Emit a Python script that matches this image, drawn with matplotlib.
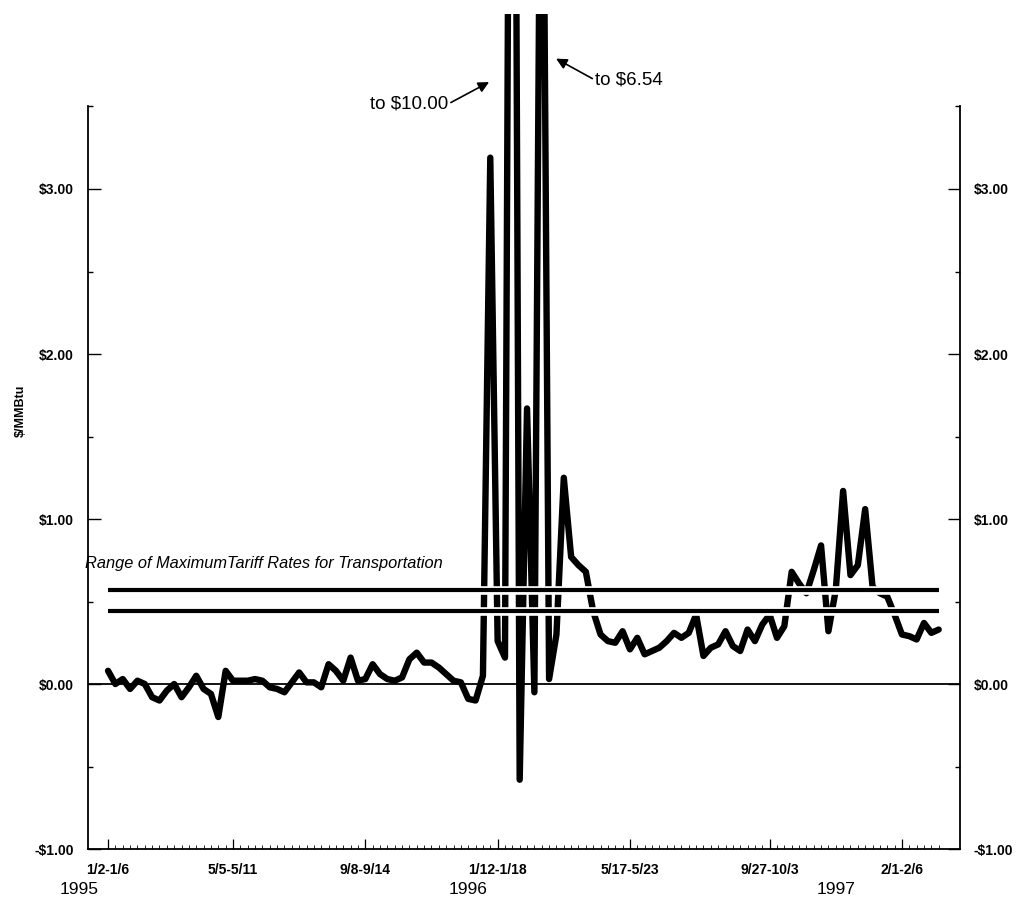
import numpy as np
import matplotlib
matplotlib.use('Agg')
import matplotlib.pyplot as plt
import matplotlib.patheffects as pe
import matplotlib.transforms as mtransforms
from matplotlib.patches import Rectangle

plt.rcParams['font.family'] = 'Liberation Sans'

# weekly price spread, $/MMBtu, first week of 1995 to spring 1997
spread = [0.08, 0.00, 0.03, -0.03, 0.02, 0.00, -0.08, -0.10, -0.04, 0.00,
          -0.08, -0.02, 0.05, -0.03, -0.06, -0.20, 0.08, 0.02, 0.02, 0.02,
          0.03, 0.02, -0.02, -0.03, -0.05, 0.01, 0.07, 0.01, 0.01, -0.02,
          0.12, 0.08, 0.02, 0.16, 0.02, 0.03, 0.12, 0.06, 0.03, 0.02,
          0.04, 0.15, 0.19, 0.13, 0.13, 0.10, 0.06, 0.02, 0.01, -0.09,
          -0.10, 0.05, 3.19, 0.26, 0.16, 10.00, -0.58, 1.67, -0.05, 6.54,
          0.03, 0.30, 1.25, 0.77, 0.72, 0.68, 0.44, 0.30, 0.26, 0.25,
          0.32, 0.21, 0.28, 0.18, 0.20, 0.22, 0.26, 0.31, 0.28, 0.31,
          0.42, 0.17, 0.22, 0.24, 0.32, 0.23, 0.20, 0.33, 0.26, 0.36,
          0.42, 0.28, 0.35, 0.68, 0.61, 0.55, 0.69, 0.84, 0.32, 0.57,
          1.17, 0.66, 0.72, 1.06, 0.59, 0.55, 0.53, 0.42, 0.30, 0.29,
          0.27, 0.37, 0.31, 0.33]

tariff_rates = [0.44, 0.57]   # range of maximum tariff rates

week_labels = ['1/2-1/6', '5/5-5/11', '9/8-9/14', '1/12-1/18',
               '5/17-5/23', '9/27-10/3', '2/1-2/6']
label_weeks = [0, 17, 35, 53, 71, 90, 108]
years = ['1995', '1996', '1997']
year_pos = [-4, 49, 99]

yticks = [-1, 0, 1, 2, 3]


def money(v):
    if v < 0:
        return r'-\$%.2f' % abs(v)
    return r'\$%.2f' % v


x = np.arange(len(spread))

fig = plt.figure(figsize=(10.19, 9.01), dpi=100)
ax = fig.add_axes([0.0864, 0.0577, 0.8557, 0.8241])

ax.axhline(0, color='black', lw=1.3, zorder=1)

line, = ax.plot(x, spread, color='black', lw=4.6, solid_joinstyle='round',
                solid_capstyle='round', zorder=2)
# the spikes run past the top of the frame and are cut near the page edge
line.set_clip_path(Rectangle((-3, -1), 121, 5.06, transform=ax.transData))

# tariff band lines sit on top of the series with a thin white edge
for r in tariff_rates:
    ax.plot([x[0], x[-1]], [r, r], color='black', lw=3.0, zorder=3,
            solid_capstyle='butt',
            path_effects=[pe.Stroke(linewidth=6.2, foreground='white'), pe.Normal()])

ax.text(-3.1, 0.733, 'Range of MaximumTariff Rates for Transportation',
        fontsize=11.8, fontstyle='italic', ha='left', va='center')

ax.annotate('to $10.00', xy=(51.84, 3.648), xytext=(46.26, 3.515),
            ha='right', va='center', fontsize=13.5, annotation_clip=False,
            arrowprops=dict(arrowstyle='-|>', color='black', lw=1.2,
                            mutation_scale=16, shrinkA=0, shrinkB=0,
                            relpos=(1, 0.5)))
ax.annotate('to $6.54', xy=(60.95, 3.79), xytext=(66.26, 3.66),
            ha='left', va='center', fontsize=13.5, annotation_clip=False,
            arrowprops=dict(arrowstyle='-|>', color='black', lw=1.2,
                            mutation_scale=16, shrinkA=0, shrinkB=0,
                            relpos=(0, 0.5)))

ax.set_xlim(-2.72, 115.9)
ax.set_ylim(-1, 3.5)

ax.set_xticks(label_weeks, week_labels, fontweight='bold', fontsize=10)
ax.set_xticks(x, minor=True)
ax.tick_params(axis='x', which='major', direction='in', length=7, width=0.9, pad=10)
ax.tick_params(axis='x', which='minor', direction='in', length=3, width=0.6)

ax.set_yticks(yticks, [money(v) for v in yticks], fontweight='bold', fontsize=10)
ax.set_yticks(np.arange(-0.5, 4, 1.0), minor=True)
ax.tick_params(axis='y', which='both', direction='in', left=True, right=True,
               labelleft=True, labelright=True)
ax.tick_params(axis='y', which='major', length=9, width=1.0, pad=10)
ax.tick_params(axis='y', which='minor', length=3.5, width=1.0)

ax.spines['top'].set_visible(False)
for s in ['left', 'right', 'bottom']:
    ax.spines[s].set_linewidth(1.3)

trans = mtransforms.blended_transform_factory(ax.transData, ax.transAxes)
for yr, p in zip(years, year_pos):
    ax.text(p, -0.054, yr, transform=trans, fontsize=12.5, ha='center', va='center')

ax.set_ylabel(r'\$/MMBtu', fontweight='bold', fontsize=9)
ax.yaxis.set_label_coords(-0.07, 0.59)

fig.savefig('out.png', dpi=100)
